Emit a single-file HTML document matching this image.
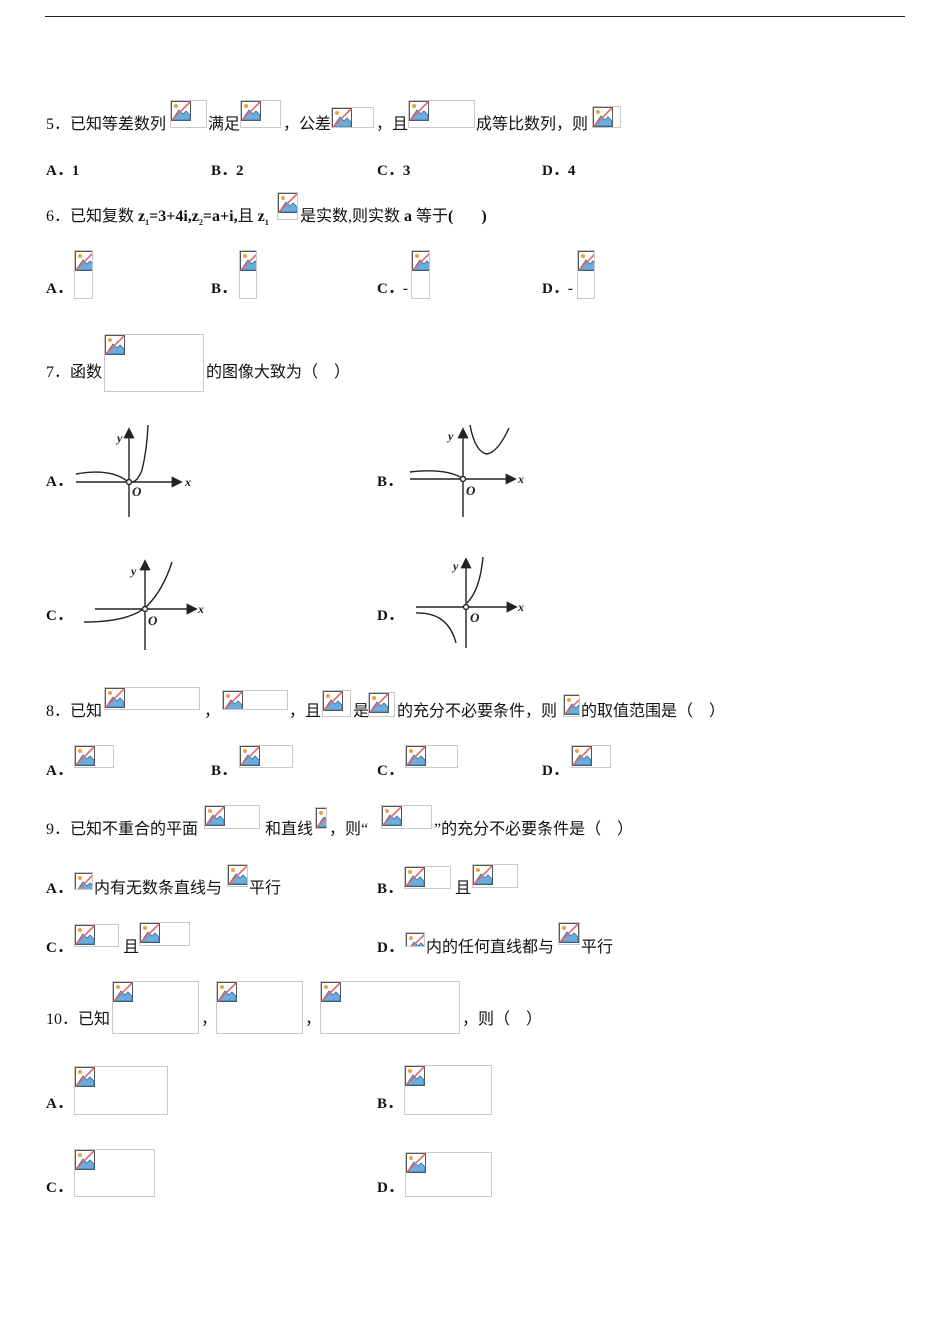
<!DOCTYPE html>
<html><head><meta charset="utf-8"><style>
body{margin:0;width:950px;height:1344px;background:#fff;position:relative;overflow:hidden;font-family:"Liberation Serif","Noto Sans CJK SC",serif;font-size:16px;color:#111}
.t{position:absolute;white-space:nowrap;line-height:16px}
.b{font-weight:bold;font-size:15px}
.im{position:absolute;box-sizing:border-box;border:1px solid #c9c9c9;overflow:hidden;background:#fff}
.im svg{position:absolute;left:0;top:0}
</style></head><body>
<svg width="0" height="0" style="position:absolute"><defs><symbol id="ic" viewBox="0 0 20 20"><rect x="0.5" y="0.5" width="19" height="19" fill="#fff" stroke="#555"/><circle cx="5" cy="5" r="2" fill="#f0a040"/><path d="M1 19 L8 9 L12 13 L15 10 L19 14 L19 19Z" fill="#6aaee0" stroke="#2d6c9c" stroke-width="0.8"/><line x1="1" y1="19" x2="19" y2="1" stroke="#e06a6a" stroke-width="1.6"/></symbol></defs></svg>
<div style="position:absolute;left:45px;top:16px;width:860px;height:1px;background:#222"></div>

<div class="t" style="left:46px;top:117px">5．已知等差数列</div>
<div class="t" style="left:208px;top:117px">满足</div>
<div class="t" style="left:283px;top:117px">，公差</div>
<div class="t" style="left:376px;top:117px">，且</div>
<div class="t" style="left:476px;top:117px">成等比数列，则</div>
<div class="t b" style="left:46px;top:163px">A．1</div>
<div class="t b" style="left:211px;top:163px">B．2</div>
<div class="t b" style="left:377px;top:163px">C．3</div>
<div class="t b" style="left:542px;top:163px">D．4</div>

<div class="t" style="left:46px;top:209px">6．已知复数 <b>z<sub style="font-size:8px">1</sub>=3+4i,z<sub style="font-size:8px">2</sub>=a+i,</b>且 <b>z<sub style="font-size:8px">1</sub></b></div>
<div class="t" style="left:300px;top:209px">是实数,则实数 <b>a</b> 等于<b>(&nbsp;&nbsp;&nbsp;&nbsp;&nbsp;&nbsp;&nbsp;)</b></div>
<div class="t b" style="left:46px;top:281px">A．</div>
<div class="t b" style="left:211px;top:281px">B．</div>
<div class="t b" style="left:377px;top:281px">C．-</div>
<div class="t b" style="left:542px;top:281px">D．-</div>

<div class="t" style="left:46px;top:365px">7．函数</div>
<div class="t" style="left:206px;top:365px">的图像大致为（　）</div>
<div class="t b" style="left:46px;top:474px">A．</div>
<div class="t b" style="left:377px;top:474px">B．</div>
<div class="t b" style="left:46px;top:608px">C．</div>
<div class="t b" style="left:377px;top:608px">D．</div>

<svg style="position:absolute;left:0;top:0" width="950" height="700" fill="none" stroke="#222" stroke-width="1.4" font-family="Liberation Serif" font-style="italic" font-weight="bold">
<defs><marker id="ar" markerWidth="8" markerHeight="8" refX="6" refY="4" orient="auto"><path d="M0 0L8 4L0 8Z" fill="#222" stroke="none"/></marker></defs>
<line x1="76" y1="482" x2="180" y2="482" marker-end="url(#ar)"/><line x1="129" y1="517" x2="129" y2="430" marker-end="url(#ar)"/>
<path d="M76 474 Q110 468 127 481 Q136 486 142 470 Q147 450 148 425"/>
<circle cx="129" cy="482" r="2.5" fill="#fff"/>
<text x="117" y="442" fill="#222" stroke="none" font-size="12">y</text><text x="185" y="486" fill="#222" stroke="none" font-size="12">x</text><text x="132" y="496" fill="#222" stroke="none" font-size="13">O</text>
<line x1="410" y1="479" x2="514" y2="479" marker-end="url(#ar)"/><line x1="463" y1="517" x2="463" y2="430" marker-end="url(#ar)"/>
<path d="M410 472 Q445 468 462 478"/><path d="M470 425 Q475 452 487 454 Q498 452 509 428"/>
<circle cx="463" cy="479" r="2.5" fill="#fff"/>
<text x="448" y="440" fill="#222" stroke="none" font-size="12">y</text><text x="518" y="483" fill="#222" stroke="none" font-size="12">x</text><text x="466" y="495" fill="#222" stroke="none" font-size="13">O</text>
<line x1="95" y1="609" x2="195" y2="609" marker-end="url(#ar)"/><line x1="145" y1="650" x2="145" y2="562" marker-end="url(#ar)"/>
<path d="M84 622 Q130 622 147 606 Q163 590 172 562"/>
<circle cx="145" cy="609" r="2.5" fill="#fff"/>
<text x="131" y="575" fill="#222" stroke="none" font-size="12">y</text><text x="198" y="613" fill="#222" stroke="none" font-size="12">x</text><text x="148" y="625" fill="#222" stroke="none" font-size="13">O</text>
<line x1="416" y1="607" x2="515" y2="607" marker-end="url(#ar)"/><line x1="466" y1="648" x2="466" y2="560" marker-end="url(#ar)"/>
<path d="M416 613 Q448 612 456 643"/><path d="M467 603 Q480 590 483 557"/>
<circle cx="466" cy="607" r="2.5" fill="#fff"/>
<text x="453" y="570" fill="#222" stroke="none" font-size="12">y</text><text x="518" y="611" fill="#222" stroke="none" font-size="12">x</text><text x="470" y="622" fill="#222" stroke="none" font-size="13">O</text>
</svg>

<div class="t" style="left:46px;top:704px">8．已知</div>
<div class="t" style="left:204px;top:704px">，</div>
<div class="t" style="left:289px;top:704px">，且</div>
<div class="t" style="left:353px;top:704px">是</div>
<div class="t" style="left:397px;top:704px">的充分不必要条件，则</div>
<div class="t" style="left:581px;top:704px">的取值范围是（　）</div>
<div class="t b" style="left:46px;top:763px">A．</div>
<div class="t b" style="left:211px;top:763px">B．</div>
<div class="t b" style="left:377px;top:763px">C．</div>
<div class="t b" style="left:542px;top:763px">D．</div>

<div class="t" style="left:46px;top:822px">9．已知不重合的平面</div>
<div class="t" style="left:265px;top:822px">和直线</div>
<div class="t" style="left:329px;top:822px">，则“</div>
<div class="t" style="left:434px;top:822px">”的充分不必要条件是（　）</div>
<div class="t b" style="left:46px;top:881px">A．</div>
<div class="t" style="left:94px;top:881px">内有无数条直线与</div>
<div class="t" style="left:249px;top:881px">平行</div>
<div class="t b" style="left:377px;top:881px">B．</div>
<div class="t" style="left:455px;top:881px">且</div>
<div class="t b" style="left:46px;top:940px">C．</div>
<div class="t" style="left:123px;top:940px">且</div>
<div class="t b" style="left:377px;top:940px">D．</div>
<div class="t" style="left:426px;top:940px">内的任何直线都与</div>
<div class="t" style="left:581px;top:940px">平行</div>

<div class="t" style="left:46px;top:1012px">10．已知</div>
<div class="t" style="left:201px;top:1012px">，</div>
<div class="t" style="left:305px;top:1012px">，</div>
<div class="t" style="left:462px;top:1012px">，则（　）</div>
<div class="t b" style="left:46px;top:1096px">A．</div>
<div class="t b" style="left:377px;top:1096px">B．</div>
<div class="t b" style="left:46px;top:1180px">C．</div>
<div class="t b" style="left:377px;top:1180px">D．</div>

<script>
var B=[[170,100,37,28],[240,100,41,28],[331,107,43,21],[408,100,67,28],[592,106,29,22],
[277,192,21,28],[74,250,19,49],[239,250,18,49],[411,250,19,49],[577,250,18,49],
[104,334,100,58],
[104,687,96,23],[222,690,66,20],[322,690,29,27],[368,692,27,25],[563,694,17,23],
[74,745,40,23],[239,745,54,23],[405,745,53,23],[571,745,40,23],
[204,805,56,24],[315,807,12,22],[381,805,51,24],
[74,872,19,18],[227,864,21,23],[404,866,47,23],[472,864,46,24],
[74,924,45,23],[139,922,51,24],[405,932,20,15],[558,922,22,23],
[112,981,87,53],[216,981,87,53],[320,981,140,53],
[74,1066,94,49],[404,1065,88,50],[74,1149,81,48],[405,1152,87,45]];
var h='';B.forEach(function(b){h+='<div class="im" style="left:'+b[0]+'px;top:'+b[1]+'px;width:'+b[2]+'px;height:'+b[3]+'px"><svg width="20" height="20"><use href="#ic"/></svg></div>';});
document.body.insertAdjacentHTML('beforeend',h);
</script>
</body></html>
